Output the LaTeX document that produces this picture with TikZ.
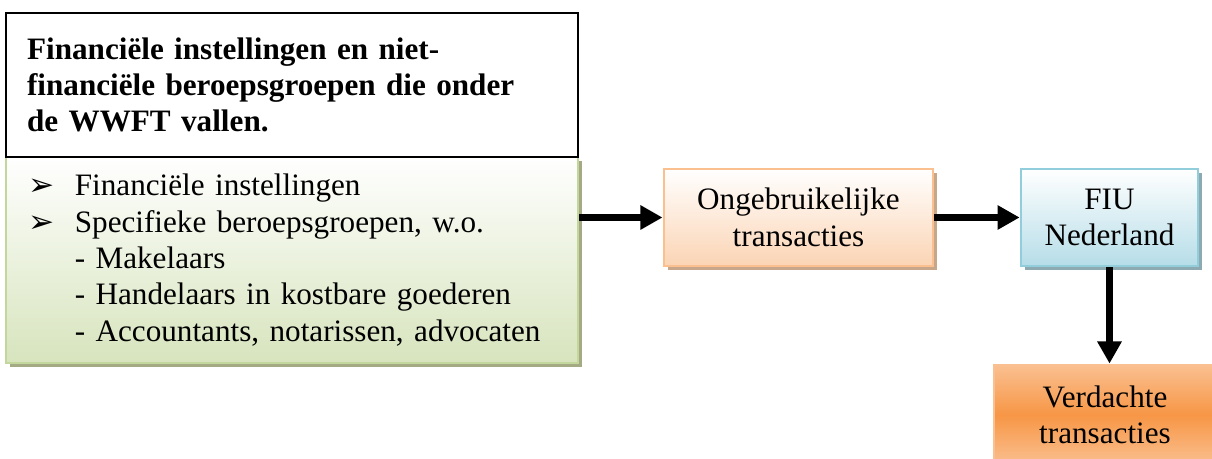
\documentclass[tikz,border=0pt]{standalone}
\usepackage{fontspec}
\setmainfont{Liberation Serif}
\newfontfamily\symfont{DejaVu Sans}
\usetikzlibrary{arrows.meta,shadows}
\definecolor{greenend}{RGB}{215,228,189}
\definecolor{greenline}{RGB}{195,214,155}
\definecolor{greenshade}{RGB}{163,170,132}
\definecolor{peachend}{RGB}{251,212,180}
\definecolor{peachline}{RGB}{250,192,144}
\definecolor{peachshade}{RGB}{200,166,138}
\definecolor{blueend}{RGB}{182,221,232}
\definecolor{blueline}{RGB}{146,205,220}
\definecolor{blueshade}{RGB}{141,170,178}
\definecolor{orangemid}{RGB}{247,150,70}
\definecolor{orangeend}{RGB}{250,192,144}
\newcommand{\bul}{\makebox[19.2pt][l]{\hspace{1.5pt}\symfont\bfseries ➢}}
\newcommand{\ind}{\hspace*{19.2pt}}
\tikzset{
	box/.style 2 args={minimum width=#1,minimum height=#2,inner sep=0pt,align=center,
		font=\fontsize{12}{14}\selectfont},
	headbox/.style={box={220.2pt}{55.4pt},draw=black,line width=0.8pt,fill=white,
		text width=204pt,align=left,font=\fontsize{12}{14}\selectfont\bfseries},
	listbox/.style={box={220.2pt}{79.3pt},draw=greenline,line width=1.1pt,
		top color=white,bottom color=greenend,text width=205.6pt,align=left,
		general shadow={fill=greenshade,shadow xshift=1.5pt,shadow yshift=-1.5pt}},
	unusualbox/.style={box={103.6pt}{37.3pt},draw=peachline,line width=1.1pt,
		top color=white,bottom color=peachend,
		general shadow={fill=peachshade,shadow xshift=1.5pt,shadow yshift=-1.5pt}},
	fiubox/.style={box={68.1pt}{37.3pt},draw=blueline,line width=1.1pt,
		top color=white,bottom color=blueend,
		general shadow={fill=blueshade,shadow xshift=1.5pt,shadow yshift=-1.5pt}},
	suspectbox/.style={box={85.5pt}{38.5pt},draw=orangeend,line width=1.1pt,
		top color=orangeend,bottom color=orangeend,middle color=orangemid},
	flow/.style={line width=2.7pt,-{Triangle[length=8.5pt,width=8.9pt]}}
}
\begin{document}
\begin{tikzpicture}[x=0.385pt,y=-0.385pt]
\useasboundingbox (0,0) rectangle (1212,459);
\clip (0,0) rectangle (1212,459);

\node [listbox] (lists) at (292,260) {%
	\bul Financiële instellingen\\
	\bul Specifieke beroepsgroepen, w.o.\\
	\ind - Makelaars\\
	\ind - Handelaars in kostbare goederen\\
	\ind - Accountants, notarissen, advocaten};
\node [headbox] (head) at (292,85) {Financiële instellingen en niet-\\financiële beroepsgroepen die onder\\de WWFT vallen.};

\node [unusualbox] (unusual) at (798.5,217.5) {Ongebruikelijke\\transacties};
\node [fiubox] (fiu) at (1109.5,217.5) {FIU\\Nederland};
\node [suspectbox] (suspect) at (1105,415) {Verdachte\\transacties};

\draw [flow] (lists.east |- unusual.west) -- (unusual.west);
\draw [flow] (unusual.east) -- (fiu.west);
\draw [flow] (fiu.south) -- (fiu.south |- suspect.north);
\end{tikzpicture}
\end{document}
